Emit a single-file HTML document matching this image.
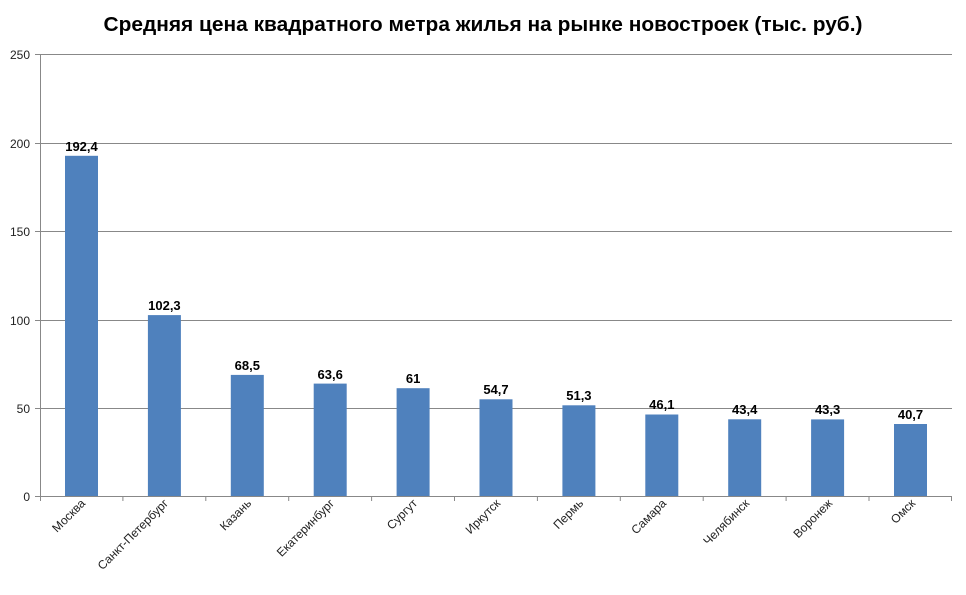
<!DOCTYPE html>
<html><head><meta charset="utf-8"><style>html,body{margin:0;padding:0;background:#fff}</style></head>
<body>
<svg width="966" height="590" xmlns="http://www.w3.org/2000/svg" font-family="Liberation Sans, DejaVu Sans, sans-serif">
<rect width="966" height="590" fill="#fff"/>
<text x="483" y="31" text-anchor="middle" font-size="20" font-weight="bold" textLength="759" lengthAdjust="spacingAndGlyphs">Средняя цена квадратного метра жилья на рынке новостроек (тыс. руб.)</text>
<g stroke="#888" stroke-width="1">
<line x1="35" y1="54.5" x2="952" y2="54.5"/>
<line x1="35" y1="143.5" x2="952" y2="143.5"/>
<line x1="35" y1="231.5" x2="952" y2="231.5"/>
<line x1="35" y1="320.5" x2="952" y2="320.5"/>
<line x1="35" y1="408.5" x2="952" y2="408.5"/>
<line x1="35" y1="496.5" x2="952" y2="496.5"/>
<line x1="40.5" y1="54" x2="40.5" y2="501"/>
<line x1="122.9" y1="496" x2="122.9" y2="501"/>
<line x1="205.8" y1="496" x2="205.8" y2="501"/>
<line x1="288.7" y1="496" x2="288.7" y2="501"/>
<line x1="371.6" y1="496" x2="371.6" y2="501"/>
<line x1="454.5" y1="496" x2="454.5" y2="501"/>
<line x1="537.4" y1="496" x2="537.4" y2="501"/>
<line x1="620.3" y1="496" x2="620.3" y2="501"/>
<line x1="703.2" y1="496" x2="703.2" y2="501"/>
<line x1="786.1" y1="496" x2="786.1" y2="501"/>
<line x1="869" y1="496" x2="869" y2="501"/>
<line x1="951.5" y1="496" x2="951.5" y2="501"/>
</g>
<g font-size="12" text-anchor="end" fill="#222">
<text x="30" y="59">250</text><text x="30" y="148">200</text><text x="30" y="236">150</text>
<text x="30" y="325">100</text><text x="30" y="413">50</text><text x="30" y="501">0</text>
</g>
<g fill="#4f81bd">
<rect x="65" y="155.8" width="33" height="340.2"/>
<rect x="147.9" y="315.1" width="33" height="180.9"/>
<rect x="230.8" y="374.9" width="33" height="121.1"/>
<rect x="313.7" y="383.6" width="33" height="112.4"/>
<rect x="396.6" y="388.2" width="33" height="107.8"/>
<rect x="479.5" y="399.3" width="33" height="96.7"/>
<rect x="562.4" y="405.3" width="33" height="90.7"/>
<rect x="645.3" y="414.5" width="33" height="81.5"/>
<rect x="728.2" y="419.3" width="33" height="76.7"/>
<rect x="811.1" y="419.4" width="33" height="76.6"/>
<rect x="894" y="424" width="33" height="72"/>
</g>
<g font-size="13" font-weight="bold" text-anchor="middle" fill="#000">
<text x="81.5" y="151">192,4</text>
<text x="164.4" y="310">102,3</text>
<text x="247.3" y="370">68,5</text>
<text x="330.2" y="379">63,6</text>
<text x="413.1" y="383">61</text>
<text x="496" y="394">54,7</text>
<text x="578.9" y="400">51,3</text>
<text x="661.8" y="409">46,1</text>
<text x="744.7" y="414">43,4</text>
<text x="827.6" y="414">43,3</text>
<text x="910.5" y="419">40,7</text>
</g>
<g font-size="12" text-anchor="end" fill="#222">
<text transform="translate(86,504) rotate(-45)">Москва</text>
<text transform="translate(169,504) rotate(-45)">Санкт-Петербург</text>
<text transform="translate(252,504) rotate(-45)">Казань</text>
<text transform="translate(335,504) rotate(-45)">Екатеринбург</text>
<text transform="translate(418,504) rotate(-45)">Сургут</text>
<text transform="translate(501,504) rotate(-45)">Иркутск</text>
<text transform="translate(584,504) rotate(-45)">Пермь</text>
<text transform="translate(667,504) rotate(-45)">Самара</text>
<text transform="translate(750,504) rotate(-45)">Челябинск</text>
<text transform="translate(833,504) rotate(-45)">Воронеж</text>
<text transform="translate(916,504) rotate(-45)">Омск</text>
</g>
</svg>
</body></html>
